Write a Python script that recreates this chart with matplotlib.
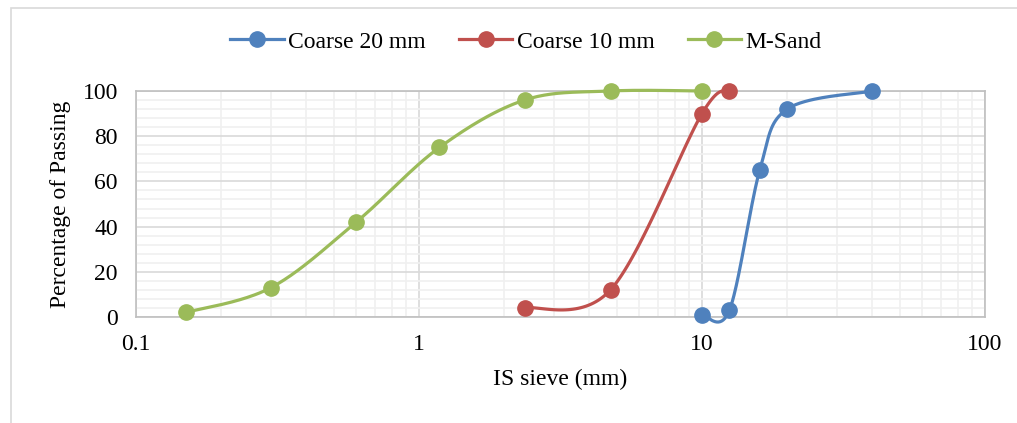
import numpy as np
import matplotlib
matplotlib.use("Agg")
import matplotlib.pyplot as plt
from matplotlib.patches import Rectangle
from matplotlib.ticker import FixedLocator, NullFormatter

plt.rcParams['font.family'] = ['Liberation Serif', 'DejaVu Serif']

# sieve sizes (mm) and percentage passing
c20_size = [10, 12.5, 16, 20, 40]
c20_pass = [1, 3, 65, 92, 100]
c10_size = [2.36, 4.75, 10, 12.5]
c10_pass = [4, 12, 90, 100]
msand_size = [0.15, 0.3, 0.6, 1.18, 2.36, 4.75, 10]
msand_pass = [2, 13, 42, 75, 96, 100, 100]

labels = ['Coarse 20 mm', 'Coarse 10 mm', 'M-Sand']
colors = ['#4F81BD', '#C0504D', '#9BBB59']

W, H = 1017, 423
fig = plt.figure(figsize=(W / 100, H / 100), dpi=100)
ax = fig.add_axes([136 / W, 1 - 317 / H, (985 - 136) / W, (317 - 91) / H])
ax.set_xscale('log')
ax.set_xlim(0.1, 100)
ax.set_ylim(0, 100)

# outer chart border
fig.patches.append(Rectangle((11 / W, -0.1), 1.2, 1 - 8 / H + 0.1, transform=fig.transFigure,
                             fill=False, edgecolor='#D9D9D9', linewidth=1.2))


def smooth(xs, ys, n=40):
    # excel style smoothed line, bezier through points in display space
    pts = ax.transData.transform(np.column_stack([xs, ys]))
    out = []
    for i in range(len(pts) - 1):
        p0 = pts[i - 1] if i > 0 else pts[i]
        p1 = pts[i]
        p2 = pts[i + 1]
        p3 = pts[i + 2] if i + 2 < len(pts) else pts[i + 1]
        c1 = p1 + (p2 - p0) / 6
        c2 = p2 - (p3 - p1) / 6
        t = np.linspace(0, 1, n)[:, None]
        seg = (1 - t) ** 3 * p1 + 3 * (1 - t) ** 2 * t * c1 + 3 * (1 - t) * t ** 2 * c2 + t ** 3 * p2
        out.append(seg)
    out = np.vstack(out)
    d = ax.transData.inverted().transform(out)
    return d[:, 0], d[:, 1]


series = [(c20_size, c20_pass), (c10_size, c10_pass), (msand_size, msand_pass)]
handles = []
for (xs, ys), lab, col in zip(series, labels, colors):
    sx, sy = smooth(xs, ys)
    ax.plot(sx, sy, color=col, linewidth=2.3, zorder=3, clip_on=False)
    ax.plot(xs, ys, 'o', color=col, markersize=11, zorder=4, clip_on=False)
    h, = ax.plot([], [], '-o', color=col, linewidth=2.3, markersize=11, label=lab)
    handles.append(h)

# gridlines
ax.yaxis.set_major_locator(FixedLocator(np.arange(0, 101, 20)))
ax.yaxis.set_minor_locator(FixedLocator(np.arange(0, 101, 4)))
ax.xaxis.set_minor_locator(FixedLocator([m * 10.0 ** e for e in range(-1, 2) for m in range(2, 10)]))
ax.xaxis.set_minor_formatter(NullFormatter())
ax.set_xticks([0.1, 1, 10, 100])
ax.set_xticklabels(['0.1', '1', '10', '100'])
ax.grid(which='minor', color='#F0F0F0', linewidth=1.2)
ax.grid(which='major', color='#D9D9D9', linewidth=1.2)
ax.set_axisbelow(True)
ax.tick_params(which='both', length=0, labelsize=17, colors='black')
ax.tick_params(axis='x', pad=12)
ax.tick_params(axis='y', pad=13)
for s in ax.spines.values():
    s.set_color('#BFBFBF')
    s.set_linewidth(1.2)

ax.set_xlabel('IS sieve (mm)', fontsize=17, labelpad=10)
ax.set_ylabel('Percentage of Passing', fontsize=17, labelpad=8)

fig.legend(handles=handles, loc='center', bbox_to_anchor=(526 / W, 1 - 42 / H), ncol=3,
           frameon=False, fontsize=17, handlelength=2.25, columnspacing=1.4, handletextpad=0.2)

fig.savefig('out.png', dpi=100)
